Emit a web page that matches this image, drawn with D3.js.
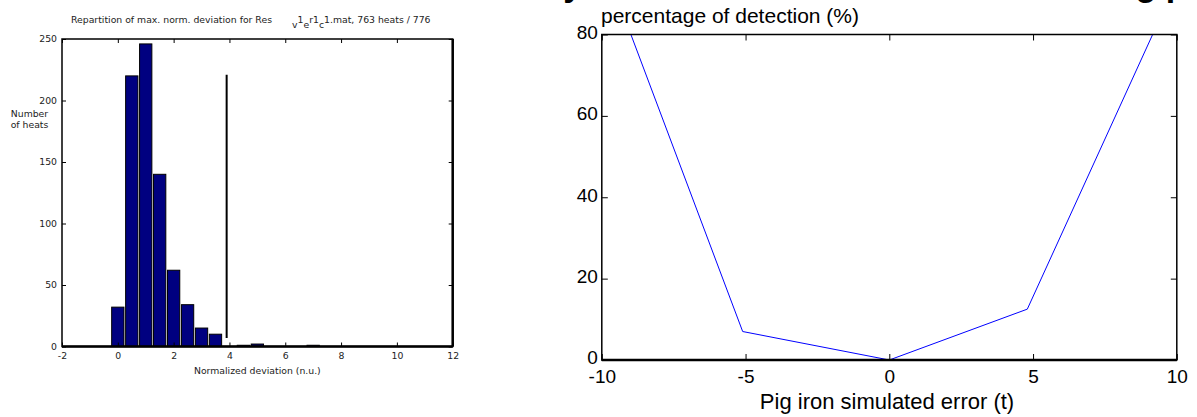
<!DOCTYPE html>
<html><head><meta charset="utf-8">
<script src="https://cdn.jsdelivr.net/npm/d3@7"></script>
<style>body{margin:0;background:#fff}svg{display:block;font-family:"Liberation Sans",Arial,sans-serif}</style>
</head><body>
<svg id="c" width="1197" height="417"></svg>
<script>
// ---- Left: histogram ----
const binCenters = [0, 0.5, 1.0, 1.5, 2.0, 2.5, 3.0, 3.5, 4.5, 5.0, 7.0];
const binCounts  = [32, 220, 246, 140, 62, 34, 15, 10, 1, 2, 1];
const thresholdX = [3.9, 3.9];
const thresholdY = [7, 221];
const histXTicks = [-2, 0, 2, 4, 6, 8, 10, 12];
const histYTicks = [0, 50, 100, 150, 200, 250];
// ---- Right: detection curve ----
const errX = [-10, -5.1, 0, 4.8, 10];
const detY = [99, 7, 0, 12.5, 93];
const detXTicks = [-10, -5, 0, 5, 10];
const detYTicks = [0, 20, 40, 60, 80];

const svg = d3.select("#c");
const fmt = (d) => String(d);
const LF = "DejaVu Sans";
const defs = svg.append("defs");

// Left chart
{
  const x = d3.scaleLinear().domain([-2, 12]).range([62, 452.7]);
  const y = d3.scaleLinear().domain([0, 250]).range([346.5, 39]);
  const g = svg.append("g");
  const bw = x(0.44) - x(0);
  g.selectAll("rect.bar").data(binCenters).join("rect")
    .attr("x", (d) => x(d) - bw / 2)
    .attr("y", (d, i) => y(binCounts[i]))
    .attr("width", bw)
    .attr("height", (d, i) => y(0) - y(binCounts[i]))
    .attr("fill", "#000080").attr("stroke", "#000").attr("stroke-width", 1);
  g.append("line").attr("x1", x(thresholdX[0])).attr("x2", x(thresholdX[1]))
    .attr("y1", y(thresholdY[0])).attr("y2", y(thresholdY[1]))
    .attr("stroke", "#000").attr("stroke-width", 2);
  const ax = (sel) => sel.attr("font-size", 9.3).attr("font-family", LF).call((s) => s.select(".domain").remove());
  g.append("g").attr("transform", `translate(0,${y(0)})`)
    .call(d3.axisBottom(x).tickValues(histXTicks).tickSize(-4).tickPadding(6).tickFormat(fmt)).call(ax);
  g.append("g").attr("transform", `translate(${x(-2)},0)`)
    .call(d3.axisLeft(y).tickValues(histYTicks).tickSize(-4).tickPadding(5).tickFormat(fmt)).call(ax);
  g.append("g").attr("transform", `translate(0,${y(250)})`)
    .call(d3.axisTop(x).tickValues(histXTicks).tickSize(-4).tickFormat("")).call(ax);
  g.append("g").attr("transform", `translate(${x(12)},0)`)
    .call(d3.axisRight(y).tickValues(histYTicks).tickSize(-4).tickFormat("")).call(ax);
  g.selectAll(".tick text").attr("fill", "#222");
  g.append("rect").attr("x", x(-2)).attr("y", y(250)).attr("width", x(12) - x(-2)).attr("height", y(0) - y(250))
    .attr("fill", "none").attr("stroke", "#000").attr("stroke-width", 1.5);
  g.append("line").attr("x1", x(-2)).attr("x2", x(12)).attr("y1", y(0)).attr("y2", y(0)).attr("stroke", "#000").attr("stroke-width", 2.5);
  g.append("line").attr("x1", x(12)).attr("x2", x(12)).attr("y1", y(0)).attr("y2", y(250)).attr("stroke", "#000").attr("stroke-width", 2.5);
  const t = g.append("text").attr("x", 71).attr("y", 23).attr("font-size", 9.3).attr("font-family", LF).attr("fill", "#222");
  t.append("tspan").text("Repartition of max. norm. deviation for Res");
  t.append("tspan").attr("x", 292).attr("dy", 5).text("v");
  t.append("tspan").attr("dy", -5).text("1");
  t.append("tspan").attr("dy", 5).text("e");
  t.append("tspan").attr("dy", -5).text("r1");
  t.append("tspan").attr("dy", 5).text("c");
  t.append("tspan").attr("dy", -5).text("1.mat, 763 heats / 776");
  g.append("text").attr("x", 29.5).attr("y", 117).attr("text-anchor", "middle").attr("font-size", 9.3).attr("font-family", LF).attr("fill", "#222").text("Number");
  g.append("text").attr("x", 29.5).attr("y", 128).attr("text-anchor", "middle").attr("font-size", 9.3).attr("font-family", LF).attr("fill", "#222").text("of heats");
  g.append("text").attr("x", x(5)).attr("y", 374).attr("text-anchor", "middle").attr("font-size", 9.3).attr("font-family", LF).attr("fill", "#222").text("Normalized deviation (n.u.)");
}

// Right chart
{
  const x = d3.scaleLinear().domain([-10, 10]).range([601.8, 1176.8]);
  const y = d3.scaleLinear().domain([0, 80]).range([360, 34.5]);
  const g = svg.append("g");
  defs.append("clipPath").attr("id", "clipR").append("rect")
    .attr("x", x(-10)).attr("y", y(80)).attr("width", x(10) - x(-10)).attr("height", y(0) - y(80));
  defs.append("clipPath").attr("id", "clipT").append("rect")
    .attr("x", 562).attr("y", 0).attr("width", 635).attr("height", 30);
  const pts = errX.map((v, i) => [v, detY[i]]);
  g.append("path").datum(pts).attr("clip-path", "url(#clipR)")
    .attr("d", d3.line().x((d) => x(d[0])).y((d) => y(d[1])))
    .attr("fill", "none").attr("stroke", "#0000ff").attr("stroke-width", 1);
  const ax = (sel) => sel.attr("font-size", 19).attr("font-family", "Liberation Sans, Arial").call((s) => s.select(".domain").remove());
  g.append("g").attr("transform", `translate(0,${y(0)})`)
    .call(d3.axisBottom(x).tickValues(detXTicks).tickSize(-6).tickPadding(10).tickFormat(fmt)).call(ax);
  g.append("g").attr("transform", `translate(${x(-10)},0)`)
    .call(d3.axisLeft(y).tickValues(detYTicks).tickSize(-6).tickPadding(4).tickFormat(fmt)).call(ax)
    .selectAll(".tick text").attr("dy", "0.2em");
  g.append("g").attr("transform", `translate(0,${y(80)})`)
    .call(d3.axisTop(x).tickValues(detXTicks).tickSize(-6).tickFormat("")).call(ax);
  g.append("g").attr("transform", `translate(${x(10)},0)`)
    .call(d3.axisRight(y).tickValues(detYTicks).tickSize(-6).tickFormat("")).call(ax);
  g.append("rect").attr("x", x(-10)).attr("y", y(80)).attr("width", x(10) - x(-10)).attr("height", y(0) - y(80))
    .attr("fill", "none").attr("stroke", "#000").attr("stroke-width", 1.5);
  g.append("line").attr("x1", x(-10)).attr("x2", x(10)).attr("y1", y(0)).attr("y2", y(0)).attr("stroke", "#000").attr("stroke-width", 2.5);
  g.append("text").attr("clip-path", "url(#clipT)").attr("x", 412).attr("y", -4).attr("font-size", 34).attr("font-weight", "bold")
    .text("Sensitivity of the detection method to missing pig iron");
  g.append("text").attr("x", 601).attr("y", 23).attr("font-size", 21).text("percentage of detection (%)");
  g.append("text").attr("x", 887).attr("y", 409).attr("text-anchor", "middle").attr("font-size", 22).text("Pig iron simulated error (t)");
}
</script>
</body></html>
